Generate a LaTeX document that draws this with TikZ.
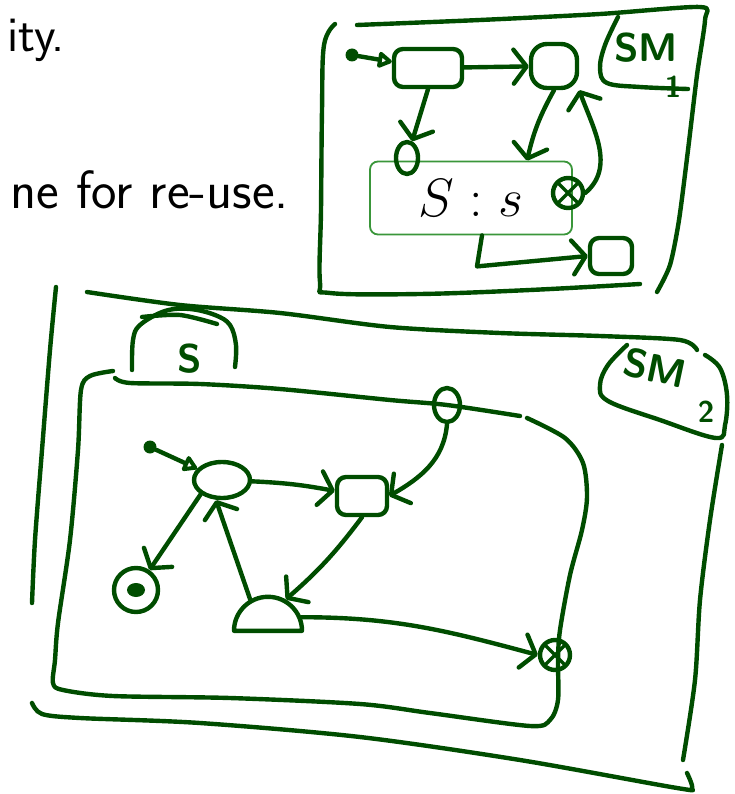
\documentclass[tikz,border=0pt]{standalone}
\usepackage{fix-cm}
\usepackage{amsmath}
\usepackage{xcolor}
\usepackage{tikz}
\usetikzlibrary{arrows.meta,positioning,calc,shapes.geometric}
\definecolor{inkgreen}{RGB}{0,77,0}
\definecolor{boxgreen}{RGB}{58,150,58}
\tikzset{
  inkline/.style={draw=inkgreen,line width=4.4pt,line cap=round,line join=round},
  hstate/.style={inkline,rounded corners=9pt,minimum height=36pt,inner sep=0pt},
  hoval/.style={inkline,ellipse,inner sep=0pt},
  startdot/.style={circle,fill=inkgreen,minimum size=13pt,inner sep=0pt},
  finst/.style={inkline,circle,minimum size=44pt,inner sep=0pt,
    path picture={\fill[inkgreen] (path picture bounding box.center) ellipse (9 and 7);}},
  exitst/.style={inkline,circle,minimum size=30pt,inner sep=0pt,
    path picture={\draw[inkgreen,line width=3.5pt] (path picture bounding box.north west) -- (path picture bounding box.south east)
      (path picture bounding box.north east) -- (path picture bounding box.south west);}},
  domest/.style={inkline,semicircle,minimum width=50pt,minimum height=34pt,inner sep=0pt},
  subbox/.style={draw=boxgreen,line width=1.8pt,rounded corners=8pt,minimum width=202pt,minimum height=73pt,
    font=\fontsize{54}{60}\selectfont},
  barb/.style={-{Straight Barb[round,length=13pt,width=34pt]}},
  initarr/.style={-{Triangle[open,round,length=16pt,width=18pt]}},
  slidetext/.style={font=\sffamily\fontsize{54}{60}\selectfont,inner sep=0pt},
  hlabel/.style={text=inkgreen,font=\sffamily\bfseries\fontsize{40}{40}\selectfont,inner sep=0pt},
  hsub/.style={hlabel,font=\sffamily\bfseries\fontsize{30}{30}\selectfont}
}
\begin{document}
\begin{tikzpicture}[x=1pt,y=-1pt]
\useasboundingbox (0,0) rectangle (735,794);
\node[slidetext,font=\sffamily\fontsize{50}{60}\selectfont,anchor=base east] (txtity) at (65,52) {ity.};
\node[slidetext,anchor=base east] (txtreuse) at (289,208) {ne for re-use.};

% first machine
\draw[inkline] plot[smooth,tension=0.6] coordinates {(335,24) (324,45) (322,110) (321,210) (320,282) (330,293) (420,294) (530,290) (640,284)};
\draw[inkline] plot[smooth,tension=0.45] coordinates {(357,25) (480,20) (600,14) (700,7) (705,20) (697,75) (688,150) (679,220) (670,265) (657,292)};
\draw[inkline] plot[smooth,tension=0.6] coordinates {(618,17) (605,45) (600,68) (607,83) (640,87) (688,89)};
\node[hlabel] (lblsmA) at (646,48) {SM};
\node[hsub] (lblsmAsub) at (673,87) {1};

\node[subbox] (sbox) at (471,198) {$S : s$};
\node[startdot] (iniA) at (352,55) {};
\node[hstate,minimum width=68pt,minimum height=38pt] (stAa) at (428,68) {};
\node[hstate,minimum width=46pt,minimum height=44pt,rounded corners=16pt] (stAb) at (554,66) {};
\node[hoval,minimum width=22pt,minimum height=32pt] (stAc) at (407,158) {};
\node[exitst] (stAd) at (568,193) {};
\node[hstate,minimum width=42pt,minimum height=36pt] (stAe) at (611,256) {};

\draw[inkline,initarr] (iniA) -- (stAa);
\draw[inkline,barb] (stAa) -- (stAb);
\draw[inkline,barb] (stAa.south) -- (stAc);
\draw[inkline,barb] (stAb.south) to[bend right=8] ([xshift=56pt]sbox.north);
\draw[inkline,barb] (stAd.east) to[out=40,in=-70] (stAb.south east);
\draw[inkline,barb] ([xshift=11pt]sbox.south) -- ++(-5,31) -- (stAe.west);

% second machine
\draw[inkline] plot[smooth] coordinates {(56,287) (50,350) (42,450) (35,540) (32,603)};
\draw[inkline] plot[smooth,tension=0.5] coordinates {(32,703) (42,714) (80,718) (200,723) (360,737) (520,760) (677,788) (692,788) (687,773)};
\draw[inkline] plot[smooth] coordinates {(87,292) (180,305) (280,313) (390,327) (500,333) (600,336) (680,340) (697,350)};
\draw[inkline] plot[smooth] coordinates {(722,445) (710,520) (700,600) (695,680) (683,760)};
\draw[inkline] plot[smooth,tension=0.6] coordinates {(627,345) (608,365) (600,385) (608,401) (660,420) (716,438) (725,425) (727,395) (720,368) (705,355)};
\node[hlabel,rotate=-12] (lblsmB) at (655,368) {SM};
\node[hsub] (lblsmBsub) at (706,412) {2};

% composite state S
\draw[inkline] plot[smooth,tension=0.5] coordinates {(113,371) (90,376) (81,390) (78,450) (70,540) (58,623) (55,660) (53,683) (63,690) (113,696) (230,698) (360,704) (430,713) (530,726) (550,720) (558,700) (558,660) (560,630) (570,575) (582,530) (587,497) (583,463) (565,438) (527,418)};
\draw[inkline] plot[smooth] coordinates {(115,378) (130,383) (200,384) (280,389) (390,400) (447,405) (520,416)};
\draw[inkline] plot[smooth,tension=0.6] coordinates {(132,370) (133,340) (140,325) (165,311) (190,309) (215,315) (230,325) (236,345) (235,367)};
\draw[inkline] plot[smooth] coordinates {(142,317) (180,315) (217,324)};
\node[hlabel] (lbltab) at (190,359) {S};

\node[startdot] (iniB) at (150,447) {};
\node[hoval,minimum width=56pt,minimum height=36pt] (stBa) at (222,480) {};
\node[hstate,minimum width=50pt,minimum height=38pt] (stBb) at (362,496) {};
\node[finst] (finB) at (136,590) {};
\node[hoval,minimum width=26pt,minimum height=34pt] (stBd) at (447,405) {};
\node[domest,anchor=chord center] (stBr) at (268,633) {};
\node[exitst] (stBe) at (555,655) {};

\draw[inkline,initarr] (iniB) -- (stBa);
\draw[inkline,barb] (stBa) to[bend left=4] (stBb);
\draw[inkline,barb] (stBd.south) to[out=-95,in=30] (stBb.east);
\draw[inkline,barb] (stBb.south) to[bend left=6] (stBr.north east);
\draw[inkline,barb] (stBr.north west) -- ([xshift=-6pt]stBa.south);
\draw[inkline,barb] (stBa.south west) -- (finB);
\draw[inkline,barb] (stBr.east) to[out=0,in=165] (stBe.west);
\end{tikzpicture}
\end{document}
